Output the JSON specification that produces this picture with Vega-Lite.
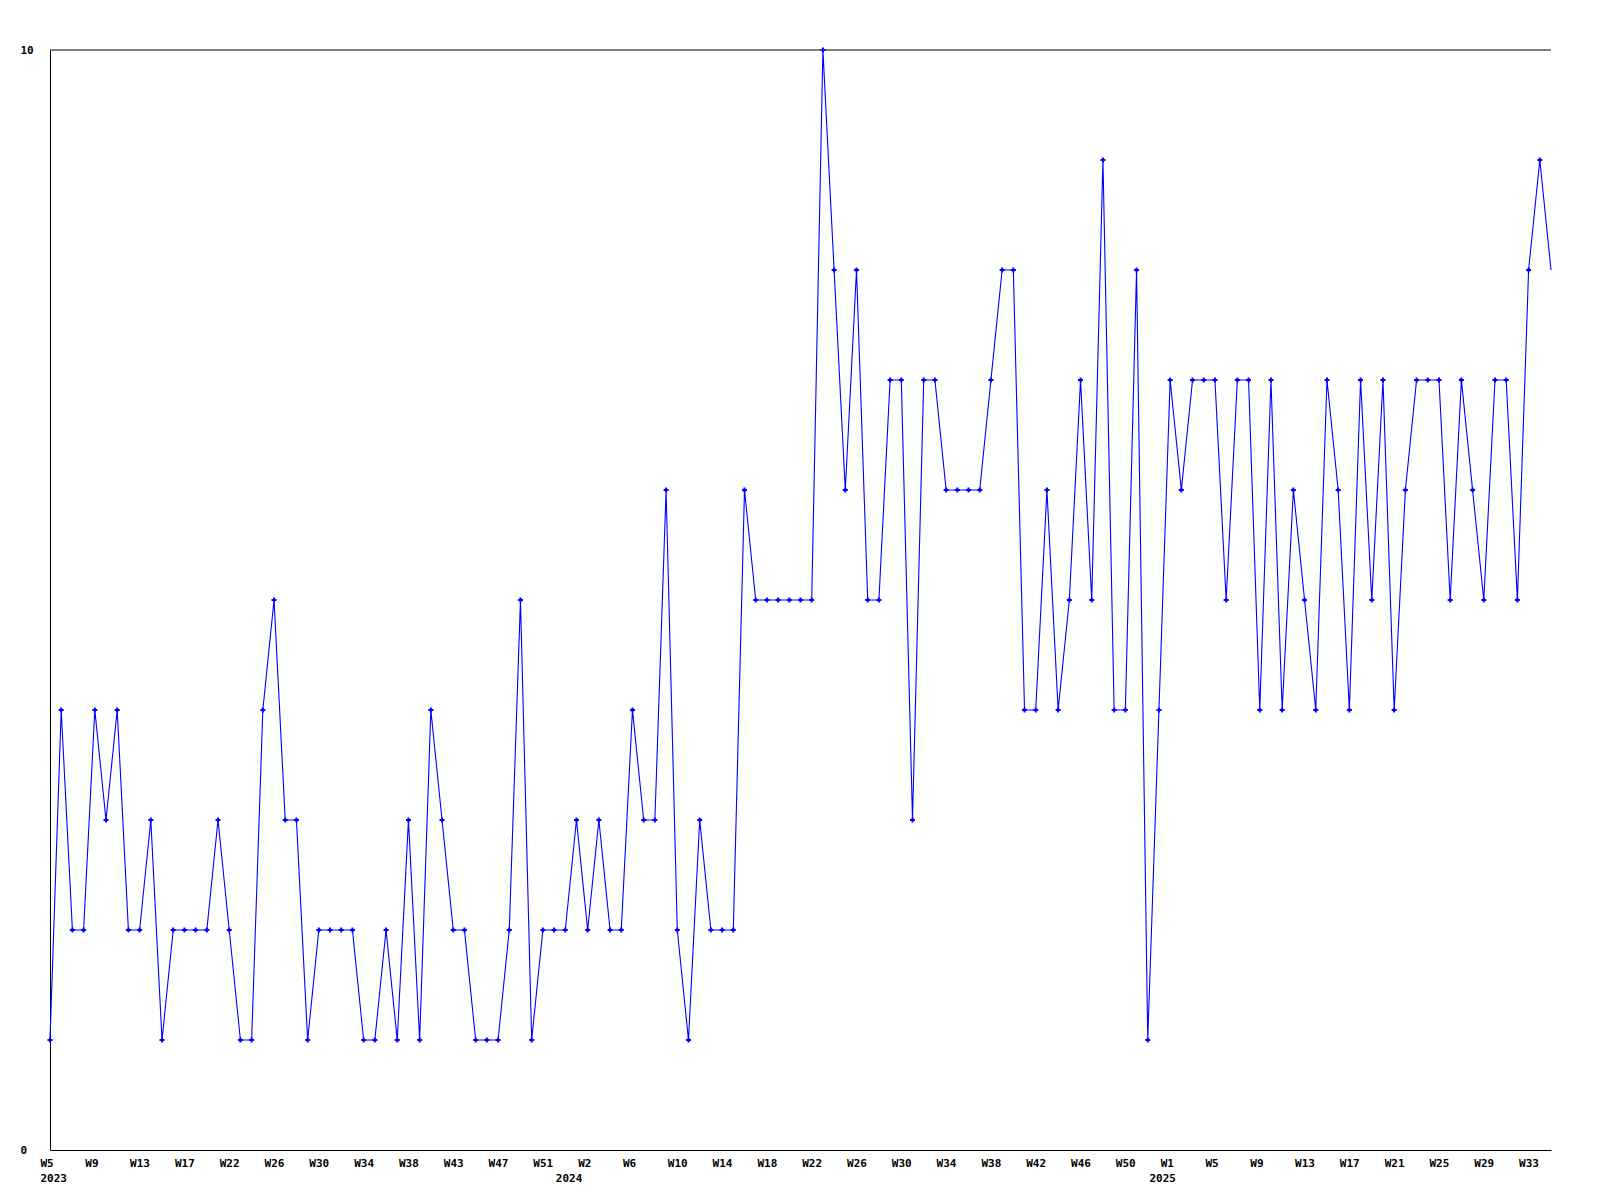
{
  "$schema": "https://vega.github.io/schema/vega-lite/v6.json",
  "width": 1501,
  "height": 1100,
  "autosize": {"type": "none"},
  "padding": {"left": 50, "top": 50, "right": 49, "bottom": 50},
  "background": "#ffffff",
  "config": {
    "view": {"stroke": null},
    "font": "DejaVu Sans Mono",
    "axis": {
      "labelFont": "DejaVu Sans Mono",
      "labelFontWeight": "bold",
      "labelFontSize": 11,
      "labelColor": "#000000",
      "domainColor": "#000000",
      "domainWidth": 1,
      "grid": false,
      "ticks": false,
      "tickSize": 0,
      "labelOverlap": false,
      "labelFlush": false
    }
  },
  "data": {
    "values": [
      {"week": "2023-01-30", "value": 1},
      {"week": "2023-02-06", "value": 4},
      {"week": "2023-02-13", "value": 2},
      {"week": "2023-02-20", "value": 2},
      {"week": "2023-02-27", "value": 4},
      {"week": "2023-03-06", "value": 3},
      {"week": "2023-03-13", "value": 4},
      {"week": "2023-03-20", "value": 2},
      {"week": "2023-03-27", "value": 2},
      {"week": "2023-04-03", "value": 3},
      {"week": "2023-04-10", "value": 1},
      {"week": "2023-04-17", "value": 2},
      {"week": "2023-04-24", "value": 2},
      {"week": "2023-05-01", "value": 2},
      {"week": "2023-05-08", "value": 2},
      {"week": "2023-05-15", "value": 3},
      {"week": "2023-05-22", "value": 2},
      {"week": "2023-05-29", "value": 1},
      {"week": "2023-06-05", "value": 1},
      {"week": "2023-06-12", "value": 4},
      {"week": "2023-06-19", "value": 5},
      {"week": "2023-06-26", "value": 3},
      {"week": "2023-07-03", "value": 3},
      {"week": "2023-07-10", "value": 1},
      {"week": "2023-07-17", "value": 2},
      {"week": "2023-07-24", "value": 2},
      {"week": "2023-07-31", "value": 2},
      {"week": "2023-08-07", "value": 2},
      {"week": "2023-08-14", "value": 1},
      {"week": "2023-08-21", "value": 1},
      {"week": "2023-08-28", "value": 2},
      {"week": "2023-09-04", "value": 1},
      {"week": "2023-09-11", "value": 3},
      {"week": "2023-09-18", "value": 1},
      {"week": "2023-09-25", "value": 4},
      {"week": "2023-10-02", "value": 3},
      {"week": "2023-10-09", "value": 2},
      {"week": "2023-10-16", "value": 2},
      {"week": "2023-10-23", "value": 1},
      {"week": "2023-10-30", "value": 1},
      {"week": "2023-11-06", "value": 1},
      {"week": "2023-11-13", "value": 2},
      {"week": "2023-11-20", "value": 5},
      {"week": "2023-11-27", "value": 1},
      {"week": "2023-12-04", "value": 2},
      {"week": "2023-12-11", "value": 2},
      {"week": "2023-12-18", "value": 2},
      {"week": "2023-12-25", "value": 3},
      {"week": "2024-01-01", "value": 2},
      {"week": "2024-01-08", "value": 3},
      {"week": "2024-01-15", "value": 2},
      {"week": "2024-01-22", "value": 2},
      {"week": "2024-01-29", "value": 4},
      {"week": "2024-02-05", "value": 3},
      {"week": "2024-02-12", "value": 3},
      {"week": "2024-02-19", "value": 6},
      {"week": "2024-02-26", "value": 2},
      {"week": "2024-03-04", "value": 1},
      {"week": "2024-03-11", "value": 3},
      {"week": "2024-03-18", "value": 2},
      {"week": "2024-03-25", "value": 2},
      {"week": "2024-04-01", "value": 2},
      {"week": "2024-04-08", "value": 6},
      {"week": "2024-04-15", "value": 5},
      {"week": "2024-04-22", "value": 5},
      {"week": "2024-04-29", "value": 5},
      {"week": "2024-05-06", "value": 5},
      {"week": "2024-05-13", "value": 5},
      {"week": "2024-05-20", "value": 5},
      {"week": "2024-05-27", "value": 10},
      {"week": "2024-06-03", "value": 8},
      {"week": "2024-06-10", "value": 6},
      {"week": "2024-06-17", "value": 8},
      {"week": "2024-06-24", "value": 5},
      {"week": "2024-07-01", "value": 5},
      {"week": "2024-07-08", "value": 7},
      {"week": "2024-07-15", "value": 7},
      {"week": "2024-07-22", "value": 3},
      {"week": "2024-07-29", "value": 7},
      {"week": "2024-08-05", "value": 7},
      {"week": "2024-08-12", "value": 6},
      {"week": "2024-08-19", "value": 6},
      {"week": "2024-08-26", "value": 6},
      {"week": "2024-09-02", "value": 6},
      {"week": "2024-09-09", "value": 7},
      {"week": "2024-09-16", "value": 8},
      {"week": "2024-09-23", "value": 8},
      {"week": "2024-09-30", "value": 4},
      {"week": "2024-10-07", "value": 4},
      {"week": "2024-10-14", "value": 6},
      {"week": "2024-10-21", "value": 4},
      {"week": "2024-10-28", "value": 5},
      {"week": "2024-11-04", "value": 7},
      {"week": "2024-11-11", "value": 5},
      {"week": "2024-11-18", "value": 9},
      {"week": "2024-11-25", "value": 4},
      {"week": "2024-12-02", "value": 4},
      {"week": "2024-12-09", "value": 8},
      {"week": "2024-12-16", "value": 1},
      {"week": "2024-12-23", "value": 4},
      {"week": "2024-12-30", "value": 7},
      {"week": "2025-01-06", "value": 6},
      {"week": "2025-01-13", "value": 7},
      {"week": "2025-01-20", "value": 7},
      {"week": "2025-01-27", "value": 7},
      {"week": "2025-02-03", "value": 5},
      {"week": "2025-02-10", "value": 7},
      {"week": "2025-02-17", "value": 7},
      {"week": "2025-02-24", "value": 4},
      {"week": "2025-03-03", "value": 7},
      {"week": "2025-03-10", "value": 4},
      {"week": "2025-03-17", "value": 6},
      {"week": "2025-03-24", "value": 5},
      {"week": "2025-03-31", "value": 4},
      {"week": "2025-04-07", "value": 7},
      {"week": "2025-04-14", "value": 6},
      {"week": "2025-04-21", "value": 4},
      {"week": "2025-04-28", "value": 7},
      {"week": "2025-05-05", "value": 5},
      {"week": "2025-05-12", "value": 7},
      {"week": "2025-05-19", "value": 4},
      {"week": "2025-05-26", "value": 6},
      {"week": "2025-06-02", "value": 7},
      {"week": "2025-06-09", "value": 7},
      {"week": "2025-06-16", "value": 7},
      {"week": "2025-06-23", "value": 5},
      {"week": "2025-06-30", "value": 7},
      {"week": "2025-07-07", "value": 6},
      {"week": "2025-07-14", "value": 5},
      {"week": "2025-07-21", "value": 7},
      {"week": "2025-07-28", "value": 7},
      {"week": "2025-08-04", "value": 5},
      {"week": "2025-08-11", "value": 8},
      {"week": "2025-08-18", "value": 9},
      {"week": "2025-08-25", "value": 8}
    ]
  },
  "layer": [
    {
      "data": {"values": [{"frame": "top"}]},
      "mark": {"type": "rule", "color": "#000000", "strokeWidth": 1},
      "encoding": {
        "y": {"datum": 10, "type": "quantitative"}
      }
    },
    {
      "mark": {"type": "line", "color": "#0000ff", "strokeWidth": 1.1, "interpolate": "linear"},
      "encoding": {
        "x": {
          "field": "week",
          "type": "temporal",
          "title": null,
          "scale": {
            "type": "utc",
            "nice": false,
            "domain": [
              {"year": 2023, "month": 1, "date": 30, "utc": true},
              {"year": 2025, "month": 8, "date": 25, "utc": true}
            ]
          },
          "axis": {
            "orient": "bottom",
            "values": [
              {"year": 2023, "month": 1, "date": 30, "utc": true},
              {"year": 2023, "month": 2, "date": 27, "utc": true},
              {"year": 2023, "month": 3, "date": 27, "utc": true},
              {"year": 2023, "month": 4, "date": 24, "utc": true},
              {"year": 2023, "month": 5, "date": 22, "utc": true},
              {"year": 2023, "month": 6, "date": 19, "utc": true},
              {"year": 2023, "month": 7, "date": 17, "utc": true},
              {"year": 2023, "month": 8, "date": 14, "utc": true},
              {"year": 2023, "month": 9, "date": 11, "utc": true},
              {"year": 2023, "month": 10, "date": 9, "utc": true},
              {"year": 2023, "month": 11, "date": 6, "utc": true},
              {"year": 2023, "month": 12, "date": 4, "utc": true},
              {"year": 2024, "month": 1, "date": 1, "utc": true},
              {"year": 2024, "month": 1, "date": 29, "utc": true},
              {"year": 2024, "month": 2, "date": 26, "utc": true},
              {"year": 2024, "month": 3, "date": 25, "utc": true},
              {"year": 2024, "month": 4, "date": 22, "utc": true},
              {"year": 2024, "month": 5, "date": 20, "utc": true},
              {"year": 2024, "month": 6, "date": 17, "utc": true},
              {"year": 2024, "month": 7, "date": 15, "utc": true},
              {"year": 2024, "month": 8, "date": 12, "utc": true},
              {"year": 2024, "month": 9, "date": 9, "utc": true},
              {"year": 2024, "month": 10, "date": 7, "utc": true},
              {"year": 2024, "month": 11, "date": 4, "utc": true},
              {"year": 2024, "month": 12, "date": 2, "utc": true},
              {"year": 2024, "month": 12, "date": 30, "utc": true},
              {"year": 2025, "month": 1, "date": 27, "utc": true},
              {"year": 2025, "month": 2, "date": 24, "utc": true},
              {"year": 2025, "month": 3, "date": 24, "utc": true},
              {"year": 2025, "month": 4, "date": 21, "utc": true},
              {"year": 2025, "month": 5, "date": 19, "utc": true},
              {"year": 2025, "month": 6, "date": 16, "utc": true},
              {"year": 2025, "month": 7, "date": 14, "utc": true},
              {"year": 2025, "month": 8, "date": 11, "utc": true}
            ],
            "labelExpr": "['W5','W9','W13','W17','W22','W26','W30','W34','W38','W43','W47','W51','W2','W6','W10','W14','W18','W22','W26','W30','W34','W38','W42','W46','W50','W1','W5','W9','W13','W17','W21','W25','W29','W33'][round((datum.value - utc(2023, 0, 30)) / 2419200000)]",
            "labelAlign": "left",
            "labelBaseline": "top",
            "labelOffset": -10,
            "labelPadding": 7
          }
        },
        "y": {
          "field": "value",
          "type": "quantitative",
          "title": null,
          "scale": {"domain": [0, 10], "nice": false, "zero": true},
          "axis": {
            "values": [0, 10],
            "format": "d",
            "labelAlign": "left",
            "labelBaseline": "middle",
            "labelPadding": 30
          }
        }
      }
    },
    {
      "transform": [{"filter": "datum.week < utc(2025, 7, 25)"}],
      "mark": {"type": "point", "shape": "cross", "filled": true, "color": "#0000ff", "size": 25, "opacity": 1},
      "encoding": {
        "x": {
          "field": "week",
          "type": "temporal",
          "title": null,
          "axis": {
            "orient": "bottom",
            "domain": false,
            "values": [
              {"year": 2023, "month": 1, "date": 30, "utc": true},
              {"year": 2023, "month": 12, "date": 18, "utc": true},
              {"year": 2024, "month": 12, "date": 23, "utc": true}
            ],
            "labelExpr": "utcFormat(datum.value + 1209600000, '%Y')",
            "labelAlign": "left",
            "labelBaseline": "top",
            "labelOffset": -10,
            "labelPadding": 22
          }
        },
        "y": {
          "field": "value",
          "type": "quantitative",
          "title": null
        }
      }
    }
  ],
  "resolve": {"axis": {"x": "independent"}}
}
